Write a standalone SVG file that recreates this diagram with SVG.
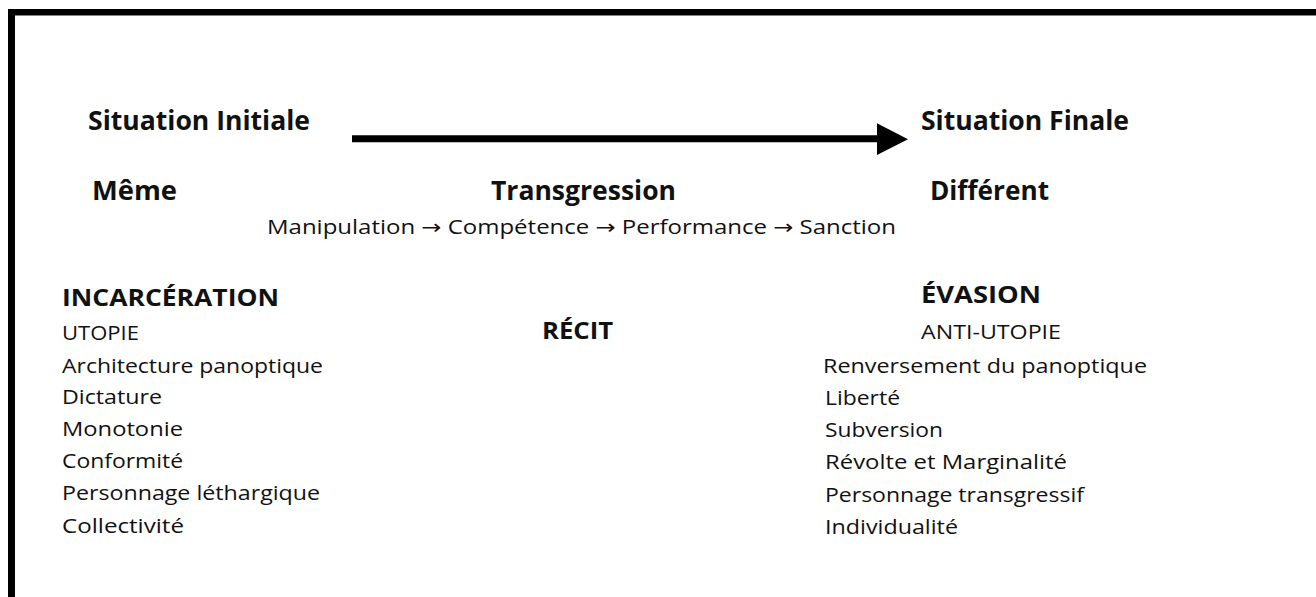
<svg xmlns="http://www.w3.org/2000/svg" width="1316" height="597" viewBox="0 0 1316 597">
<style>
text{font-family:"Open Sans","Liberation Sans",sans-serif;fill:#111;}
.h1{font-size:26px;font-weight:bold;}
.h2{font-size:24px;font-weight:bold;}
.r{font-size:19.5px;}
.s{font-size:20px;}
.ar{font-family:"DejaVu Sans",sans-serif;}
</style>
<rect x="0" y="0" width="1316" height="597" fill="#fff"/>
<g id="frame">
<rect x="8" y="9" width="1308" height="6.5" fill="#000"/>
<rect x="8" y="9" width="7" height="588" fill="#000"/>
</g>
<g id="connectors">
<line x1="352" y1="138.7" x2="879" y2="138.7" stroke="#000" stroke-width="7"/>
<polygon points="877,123.3 908,139.3 877,155" fill="#000"/>
</g>
<g id="situation-initiale"><text class="h1" x="88" y="130" textLength="222" lengthAdjust="spacingAndGlyphs">Situation Initiale</text></g>
<g id="situation-finale"><text class="h1" x="921" y="130" textLength="208" lengthAdjust="spacingAndGlyphs">Situation Finale</text></g>
<g id="meme"><text class="h1" x="92" y="200" textLength="85" lengthAdjust="spacingAndGlyphs">Même</text></g>
<g id="transgression">
<text class="h1" x="491" y="200" textLength="185" lengthAdjust="spacingAndGlyphs">Transgression</text>
<text class="s" x="267" y="234" textLength="629" lengthAdjust="spacingAndGlyphs">Manipulation <tspan class="ar">→</tspan> Compétence <tspan class="ar">→</tspan> Performance <tspan class="ar">→</tspan> Sanction</text>
</g>
<g id="different"><text class="h1" x="930" y="200" textLength="119" lengthAdjust="spacingAndGlyphs">Différent</text></g>
<g id="incarceration">
<text class="h2" x="62" y="306" textLength="217" lengthAdjust="spacingAndGlyphs">INCARCÉRATION</text>
<text class="r" x="62" y="340" textLength="77" lengthAdjust="spacingAndGlyphs">UTOPIE</text>
<text class="r" x="62" y="372.5" textLength="261" lengthAdjust="spacingAndGlyphs">Architecture panoptique</text>
<text class="r" x="62" y="404" textLength="100" lengthAdjust="spacingAndGlyphs">Dictature</text>
<text class="r" x="62" y="436" textLength="121" lengthAdjust="spacingAndGlyphs">Monotonie</text>
<text class="r" x="62" y="468" textLength="121" lengthAdjust="spacingAndGlyphs">Conformité</text>
<text class="r" x="62" y="500" textLength="258" lengthAdjust="spacingAndGlyphs">Personnage léthargique</text>
<text class="r" x="62" y="532.5" textLength="122" lengthAdjust="spacingAndGlyphs">Collectivité</text>
</g>
<g id="recit"><text class="h2" x="542" y="339" textLength="71" lengthAdjust="spacingAndGlyphs">RÉCIT</text></g>
<g id="evasion">
<text class="h2" x="921" y="303" textLength="120" lengthAdjust="spacingAndGlyphs">ÉVASION</text>
<text class="r" x="921" y="339" textLength="140" lengthAdjust="spacingAndGlyphs">ANTI-UTOPIE</text>
<text class="r" x="823" y="372.5" textLength="324" lengthAdjust="spacingAndGlyphs">Renversement du panoptique</text>
<text class="r" x="825" y="405" textLength="75" lengthAdjust="spacingAndGlyphs">Liberté</text>
<text class="r" x="825" y="437" textLength="118" lengthAdjust="spacingAndGlyphs">Subversion</text>
<text class="r" x="825" y="469" textLength="242" lengthAdjust="spacingAndGlyphs">Révolte et Marginalité</text>
<text class="r" x="825" y="501.5" textLength="259" lengthAdjust="spacingAndGlyphs">Personnage transgressif</text>
<text class="r" x="825" y="534" textLength="133" lengthAdjust="spacingAndGlyphs">Individualité</text>
</g>
</svg>
